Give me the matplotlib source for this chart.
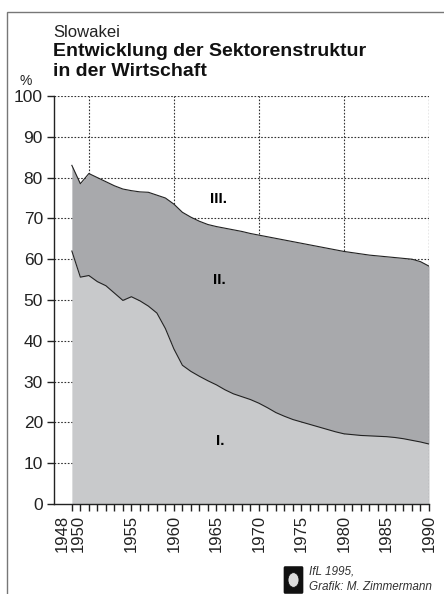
import numpy as np
import matplotlib
matplotlib.use('Agg')
from matplotlib import pyplot as plt
from matplotlib.patches import Rectangle, FancyBboxPatch, Circle
import matplotlib.transforms as mtransforms

plt.rcParams['font.family'] = ['Liberation Sans', 'DejaVu Sans']

# Slowakei, Anteil der Sektoren (kumuliert, %)
years = list(range(1948, 1991))
sektor_1 = [62.0, 55.6, 56.0, 54.5, 53.5, 51.7, 49.9, 50.8, 49.8, 48.5,
            46.8, 43.0, 38.0, 34.0, 32.5, 31.3, 30.2, 29.2, 28.0, 27.0,
            26.3, 25.6, 24.7, 23.6, 22.4, 21.5, 20.7, 20.1, 19.5, 18.9,
            18.3, 17.7, 17.2, 17.0, 16.8, 16.7, 16.6, 16.5, 16.3, 16.0,
            15.6, 15.2, 14.7]
sektor_1_2 = [83.0, 78.5, 81.0, 80.0, 79.0, 78.0, 77.2, 76.8, 76.5, 76.4,
              75.7, 75.0, 73.5, 71.5, 70.3, 69.3, 68.5, 68.0, 67.6, 67.2,
              66.8, 66.3, 65.9, 65.5, 65.1, 64.7, 64.3, 63.9, 63.5, 63.1,
              62.7, 62.3, 61.9, 61.6, 61.3, 61.0, 60.8, 60.6, 60.4, 60.2,
              60.0, 59.4, 58.3]
xtick_years = [1948, 1950, 1955, 1960, 1965, 1970, 1975, 1980, 1985, 1990]
grid_years = [1950, 1960, 1970, 1980, 1990]
yticks = list(range(0, 101, 10))

fig = plt.figure(figsize=(4.44, 5.94), dpi=100)
ax = fig.add_axes([54/444, 1 - 504/594, (429 - 54)/444, (504 - 96)/594])

# grid first, fills cover it
dots = (0, (1.5, 1.5))
for yy in yticks[1:]:
    ax.axhline(yy, color='#333333', lw=0.8, ls=dots, zorder=0)
for gx in grid_years:
    ax.axvline(gx, color='#333333', lw=0.8, ls=dots, zorder=0)

ax.fill_between(years, 0, sektor_1, color='#c8c9cb', lw=0, zorder=1)
ax.fill_between(years, sektor_1, sektor_1_2, color='#a8a9ac', lw=0, zorder=1)
ax.plot(years, sektor_1, color='#222222', lw=0.8, zorder=2)
ax.plot(years, sektor_1_2, color='#222222', lw=0.8, zorder=2)
ax.axvline(1990, color='#333333', lw=0.8, ls=dots, zorder=3)

ax.set_xlim(1945.9, 1990)
ax.set_ylim(0, 100)
for s in ['top', 'right']:
    ax.spines[s].set_visible(False)
for s in ['left', 'bottom']:
    ax.spines[s].set_linewidth(1.0)
    ax.spines[s].set_color('#222222')

ax.set_yticks(yticks)
ax.set_yticklabels([str(v) for v in yticks], fontsize=12.5, color='#222222')
ax.set_xticks(xtick_years)
ax.set_xticklabels([str(v) for v in xtick_years], rotation=90, fontsize=12,
                   color='#222222')
ax.set_xticks(years, minor=True)
ax.tick_params(axis='y', length=5, width=1, pad=3, color='#222222')
ax.tick_params(axis='x', which='both', length=5, width=1, pad=3, color='#222222')

# 1948 und 1950 liegen eng beieinander -> nach links schieben
xlabels = ax.get_xticklabels()
for lab, dx in zip(xlabels[:2], [-10, -11]):
    lab.set_transform(lab.get_transform() +
                      mtransforms.ScaledTranslation(dx/100, 0, fig.dpi_scale_trans))

ax.text(1965.2, 74.8, 'III.', fontsize=11, fontweight='bold', ha='center', va='center')
ax.text(1965.4, 54.9, 'II.', fontsize=11, fontweight='bold', ha='center', va='center')
ax.text(1965.4, 15.4, 'I.', fontsize=11, fontweight='bold', ha='center', va='center')

fig.text(53/444, 1 - 37/594, 'Slowakei', fontsize=12, ha='left', va='baseline',
         color='#222222')
fig.text(53/444, 1 - 56/594, 'Entwicklung der Sektorenstruktur', fontsize=14,
         fontweight='bold', ha='left', va='baseline', color='#111111')
fig.text(53/444, 1 - 76/594, 'in der Wirtschaft', fontsize=14,
         fontweight='bold', ha='left', va='baseline', color='#111111')
fig.text(26/444, 1 - 81/594, '%', fontsize=10, ha='center', va='center',
         color='#222222')

# Rahmen
fig.patches.append(Rectangle((7/444, -0.05), 1.1, 1 - 12/594 + 0.05,
                             transform=fig.transFigure, fill=False,
                             ec='#777777', lw=1.0))

# Logo + Quelle
fig.patches.append(FancyBboxPatch((285/444, 1 - 592/594), 17/444, 24/594,
                                  boxstyle='round,pad=0.003',
                                  transform=fig.transFigure, fc='#111111', ec='none'))
fig.patches.append(Circle((293.5/444, 1 - 580/594), 5.5/444,
                          transform=fig.transFigure, fc='#dddddd', ec='#111111', lw=0.6))
fig.text(309/444, 1 - 575/594, 'IfL 1995,', fontsize=8.5, style='italic',
         color='#333333', ha='left', va='baseline')
fig.text(309/444, 1 - 590/594, 'Grafik: M. Zimmermann', fontsize=8.5, style='italic',
         color='#333333', ha='left', va='baseline')

fig.savefig('out.png', dpi=100)
